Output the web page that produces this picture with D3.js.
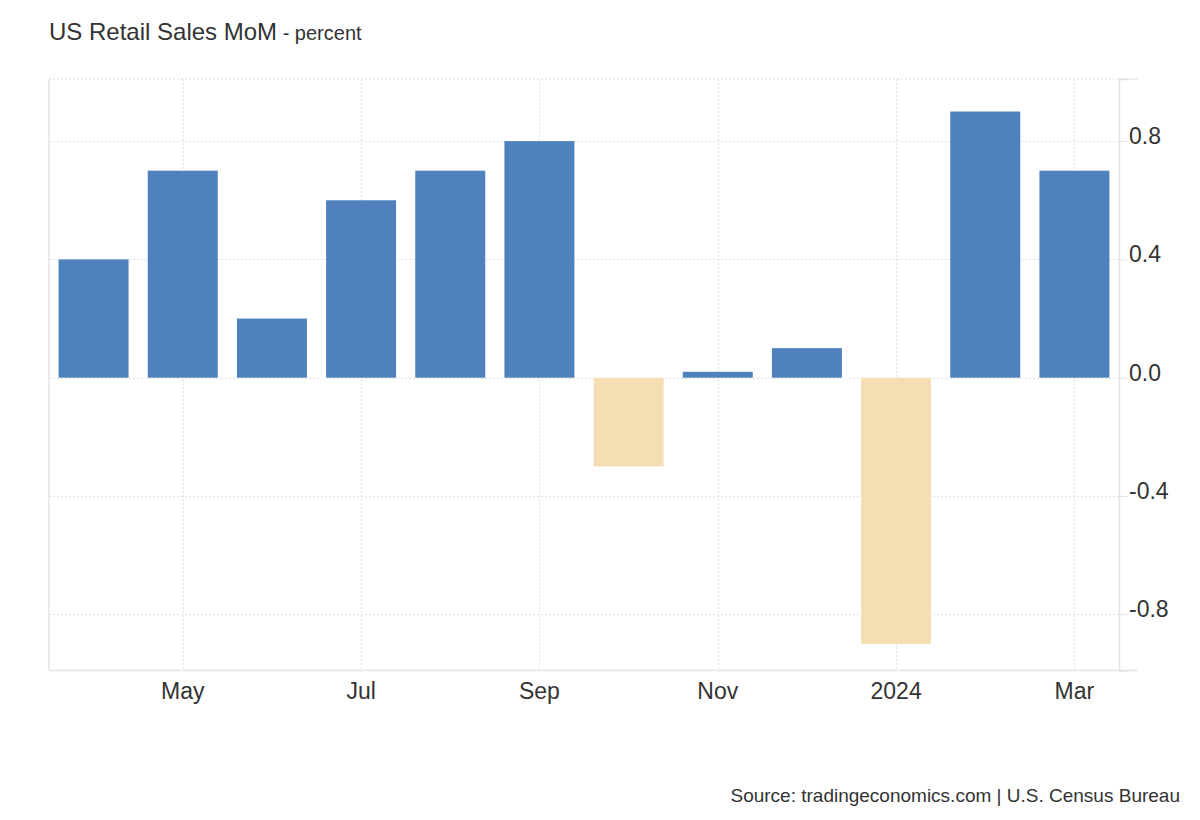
<!DOCTYPE html>
<html>
<head>
<meta charset="utf-8">
<script src="https://cdn.jsdelivr.net/npm/d3@7"></script>
<style>
  html, body { margin: 0; padding: 0; background: #ffffff; }
  svg { display: block; font-family: "Liberation Sans", Arial, sans-serif; }
</style>
</head>
<body>
<svg id="chart" width="1200" height="820"></svg>
<script>
// ---- data ----
const months = ["2023-04","2023-05","2023-06","2023-07","2023-08","2023-09",
                "2023-10","2023-11","2023-12","2024-01","2024-02","2024-03"];
const values = [0.4, 0.7, 0.2, 0.6, 0.7, 0.8, -0.3, 0.02, 0.1, -0.9, 0.9, 0.7];
const xTickMonths = ["2023-05","2023-07","2023-09","2023-11","2024-01","2024-03"];
const xTickLabels = ["May","Jul","Sep","Nov","2024","Mar"];
const yTicks = [-0.8, -0.4, 0, 0.4, 0.8];
const yTickLabels = ["-0.8","-0.4","0.0","0.4","0.8"];
const yDomain = [-0.99, 1.01];

// ---- layout ----
const svg = d3.select("#chart");
const pLeft = 49, pRight = 1119, pTop = 79, pBottom = 670.5;
const gridColor = "#e0e0e0", axisColor = "#e3e3e3", textColor = "#333333";
const posColor = "#4f81bd", negColor = "#f5deb3";

const x = d3.scaleBand().domain(months).range([pLeft, pRight])
  .paddingInner(0.215).paddingOuter(0.1075);
const y = d3.scaleLinear().domain(yDomain).range([pBottom, pTop]);
const cx = m => x(m) + x.bandwidth() / 2;

// grid
const grid = svg.append("g");
grid.selectAll("line.h").data(yTicks.concat([yDomain[1]])).join("line")
  .attr("x1", pLeft).attr("x2", pRight)
  .attr("y1", d => d === yDomain[1] ? pTop : Math.round(y(d)) + 0.5)
  .attr("y2", d => d === yDomain[1] ? pTop : Math.round(y(d)) + 0.5)
  .attr("stroke", gridColor).attr("stroke-width", 1).attr("stroke-dasharray", "2,2");
grid.selectAll("line.v").data(xTickMonths).join("line")
  .attr("x1", d => Math.round(cx(d)) + 0.5).attr("x2", d => Math.round(cx(d)) + 0.5)
  .attr("y1", pTop).attr("y2", pBottom)
  .attr("stroke", gridColor).attr("stroke-width", 1).attr("stroke-dasharray", "2,2");

// bars
svg.append("g").selectAll("rect").data(months).join("rect")
  .attr("x", m => x(m))
  .attr("width", x.bandwidth())
  .attr("y", (m, i) => y(Math.max(0, values[i])))
  .attr("height", (m, i) => Math.abs(y(values[i]) - y(0)))
  .attr("fill", (m, i) => values[i] >= 0 ? posColor : negColor);

// axis frame lines
svg.append("line").attr("x1", pLeft).attr("x2", pLeft).attr("y1", pTop).attr("y2", pBottom)
  .attr("stroke", axisColor).attr("stroke-width", 1.5);
svg.append("line").attr("x1", pLeft).attr("x2", 1138).attr("y1", pBottom).attr("y2", pBottom)
  .attr("stroke", axisColor).attr("stroke-width", 1.5);
svg.append("line").attr("x1", pRight).attr("x2", 1138).attr("y1", pTop).attr("y2", pTop)
  .attr("stroke", axisColor).attr("stroke-width", 1);

// y axis (right)
const yAxis = d3.axisRight(y).tickValues(yTicks).tickSize(9).tickPadding(1)
  .tickFormat((d, i) => yTickLabels[i]);
const gy = svg.append("g").attr("transform", `translate(${pRight},0)`).call(yAxis);
gy.select(".domain").attr("stroke", axisColor).attr("stroke-width", 1.5);
gy.selectAll(".tick line").attr("stroke", axisColor);
gy.selectAll(".tick text").attr("fill", textColor)
  .style("font-size", "23px").attr("dy", "0.1em");

// x axis (bottom)
const xAxis = d3.axisBottom(x).tickValues(xTickMonths).tickSize(0).tickPadding(12)
  .tickFormat((d, i) => xTickLabels[i]);
const gx = svg.append("g").attr("transform", `translate(0,${pBottom})`).call(xAxis);
gx.select(".domain").remove();
gx.selectAll(".tick text").attr("fill", textColor).style("font-size", "23px");

// title
const title = svg.append("text").attr("x", 49).attr("y", 40).attr("fill", textColor);
title.append("tspan").style("font-size", "24px").text("US Retail Sales MoM");
title.append("tspan").style("font-size", "20px").text(" - percent");

// source
svg.append("text").attr("x", 1180).attr("y", 802).attr("text-anchor", "end")
  .attr("fill", textColor).style("font-size", "19px")
  .text("Source: tradingeconomics.com | U.S. Census Bureau");
</script>
</body>
</html>
